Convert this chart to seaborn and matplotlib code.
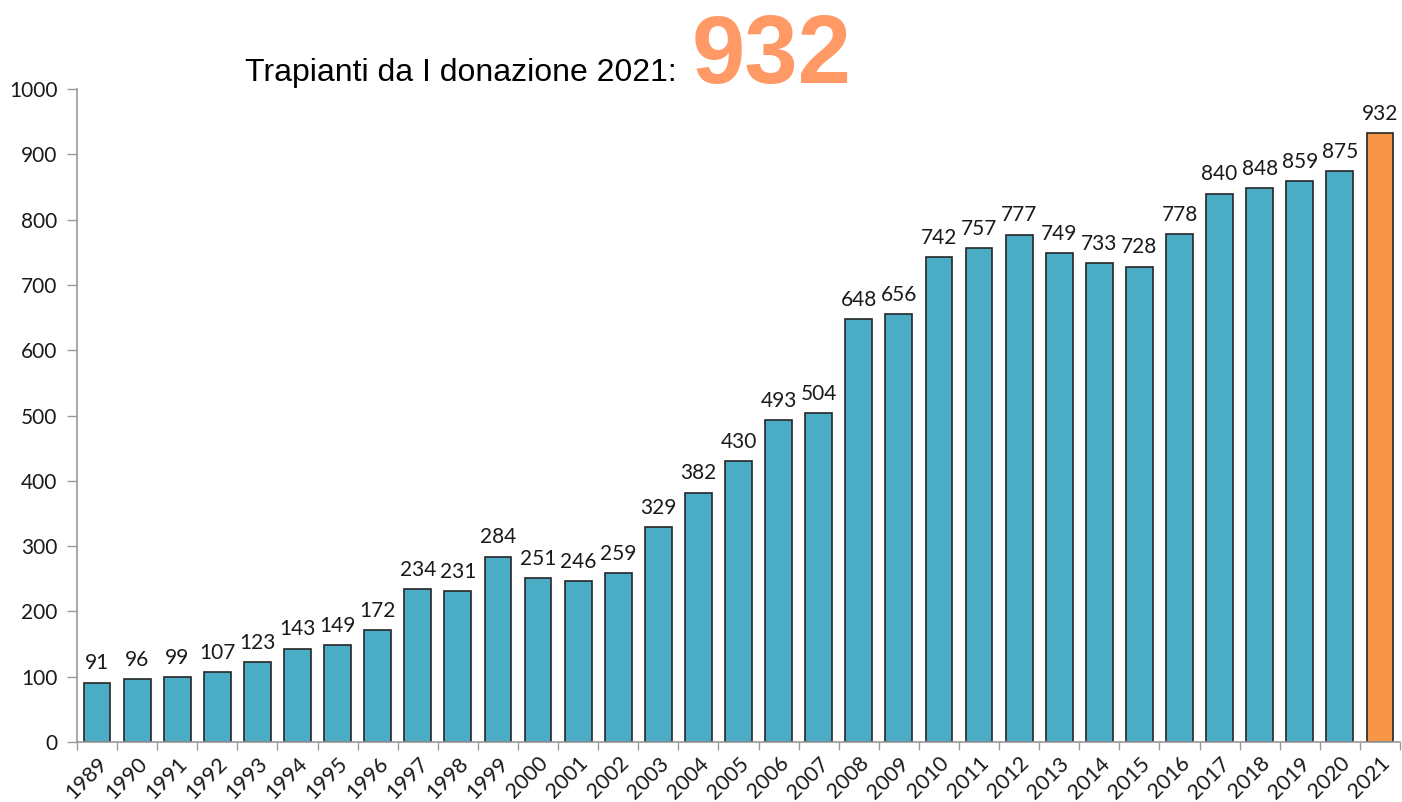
import matplotlib
matplotlib.use("Agg")
import matplotlib.pyplot as plt
import seaborn as sns
import pandas as pd
from matplotlib.ticker import FixedLocator, NullFormatter

years = [str(y) for y in range(1989, 2022)]
values = [91, 96, 99, 107, 123, 143, 149, 172, 234, 231, 284, 251, 246, 259, 329,
          382, 430, 493, 504, 648, 656, 742, 757, 777, 749, 733, 728, 778, 840, 848,
          859, 875, 932]
highlight = ["base"] * 32 + ["last"]

df = pd.DataFrame({"year": years, "value": values, "grp": highlight})

sns.set_theme(style="white")
plt.rcParams["font.family"] = ["Lato", "DejaVu Sans"]

fig = plt.figure(figsize=(14.02, 8.02), dpi=100)
ax = fig.add_axes([0.0549, 0.0748, 0.9437, 0.8142])

sns.barplot(data=df, x="year", y="value", hue="grp",
            palette={"base": "#4BACC6", "last": "#F79646"}, saturation=1,
            width=0.67, edgecolor="#262626", linewidth=1.2,
            dodge=False, legend=False, ax=ax)

ax.set_xlim(-0.5, len(years) - 0.5)
ax.set_ylim(0, 1000)
ax.set_yticks(range(0, 1001, 100))
ax.set_xlabel("")
ax.set_ylabel("")

for i, v in enumerate(values):
    ax.text(i, v + 14, str(v), ha="center", va="bottom", fontsize=15, color="#1a1a1a")

# ticks
ax.xaxis.set_major_locator(FixedLocator([i - 0.5 for i in range(len(years) + 1)]))
ax.xaxis.set_major_formatter(NullFormatter())
ax.xaxis.set_minor_locator(FixedLocator(list(range(len(years)))))
ax.set_xticklabels(years, minor=True, rotation=45, ha="right", rotation_mode="anchor",
                   fontsize=15.5, color="#1a1a1a")
ax.tick_params(axis="x", which="major", direction="out", length=6, width=1, color="#999999", bottom=True)
ax.tick_params(axis="x", which="minor", length=0, pad=8)
ax.tick_params(axis="y", direction="out", length=7, width=1, color="#999999", left=True,
               labelsize=15, labelcolor="#1a1a1a", pad=7)

for s in ["top", "right"]:
    ax.spines[s].set_visible(False)
for s in ["left", "bottom"]:
    ax.spines[s].set_color("#999999")
    ax.spines[s].set_linewidth(1.2)

fig.text(245 / 1402, 1 - 81 / 802, "Trapianti da I donazione 2021:", fontsize=23,
         family=["Liberation Sans", "DejaVu Sans"], color="black", ha="left", va="baseline")
fig.text(692 / 1402, 1 - 83 / 802, "932", fontsize=69, fontweight="bold",
         family=["Liberation Sans", "DejaVu Sans"], color="#FF9966", ha="left", va="baseline")

fig.savefig("out.png", dpi=100)
